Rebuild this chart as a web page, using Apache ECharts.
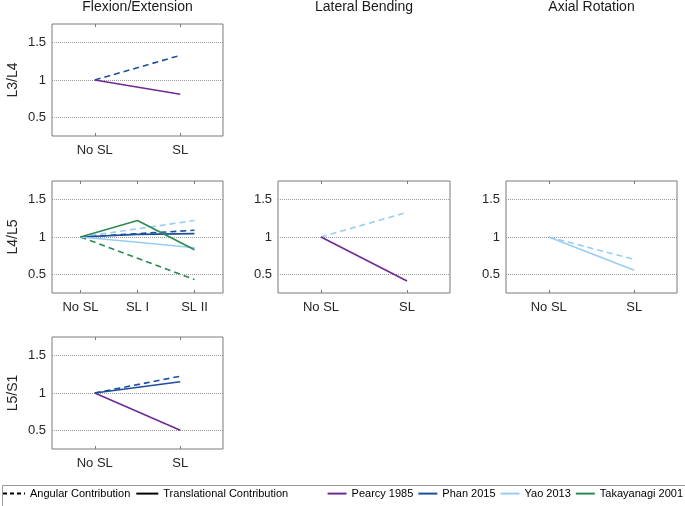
<!DOCTYPE html>
<html>
<head>
<meta charset="utf-8">
<script src="https://cdn.jsdelivr.net/npm/echarts@6/dist/echarts.min.js"></script>
<style>html,body{margin:0;padding:0;background:#fff}#c{width:685px;height:506px}</style>
</head>
<body>
<div id="c"></div>
<script>
// ---- data ----
const catsTwo = ['No SL', 'SL'];
const catsThree = ['No SL', 'SL I', 'SL II'];
const panelTitles = ['Flexion/Extension', 'Lateral Bending', 'Axial Rotation'];
const levelNames = ['L3/L4', 'L4/L5', 'L5/S1'];
const studies = ['Pearcy 1985', 'Phan 2015', 'Yao 2013', 'Takayanagi 2001'];
const contributionNames = ['Angular Contribution', 'Translational Contribution'];

// L3/L4 flexion/extension
const l34FlexPearcyTrans = [1, 0.81];
const l34FlexPhanAng = [1, 1.33];
// L4/L5 flexion/extension
const l45FlexPhanAng = [1, 1.045, 1.09];
const l45FlexPhanTrans = [1, 1.035, 1.045];
const l45FlexYaoAng = [1, 1.11, 1.22];
const l45FlexYaoTrans = [1, 0.93, 0.855];
const l45FlexTakAng = [1, 0.715, 0.43];
const l45FlexTakTrans = [1, 1.22, 0.83];
// L4/L5 lateral bending
const l45LatYaoAng = [1, 1.33];
const l45LatPearcyTrans = [1, 0.41];
// L4/L5 axial rotation
const l45AxYaoAng = [1, 0.70];
const l45AxYaoTrans = [1, 0.555];
// L5/S1 flexion/extension
const l5s1FlexPhanAng = [1, 1.225];
const l5s1FlexPhanTrans = [1, 1.15];
const l5s1FlexPearcyTrans = [1, 0.5];

// ---- styling ----
const FONT = "'Liberation Sans', Arial, sans-serif";
const studyColors = {
  'Pearcy 1985': '#6f2a96',
  'Phan 2015': '#1d4f9a',
  'Yao 2013': '#98cdf5',
  'Takayanagi 2001': '#2a8a52'
};
const BORDER = '#7a7a7a';

const grids = [
  {left: 52, top: 24, width: 171, height: 112},   // 0 L3/L4 flex
  {left: 52, top: 181, width: 171, height: 112},  // 1 L4/L5 flex
  {left: 278, top: 181, width: 172, height: 112}, // 2 L4/L5 lateral
  {left: 506, top: 181, width: 171, height: 112}, // 3 L4/L5 axial
  {left: 52, top: 337, width: 171, height: 112}   // 4 L5/S1 flex
].map(g => Object.assign({show: true, borderColor: BORDER, borderWidth: 1, backgroundColor: '#fff'}, g));

const gridCats = [catsTwo, catsThree, catsTwo, catsTwo, catsTwo];
const gridYName = [levelNames[0], levelNames[1], '', '', levelNames[2]];

const xAxes = [];
const yAxes = [];
gridCats.forEach((cats, i) => {
  xAxes.push({
    type: 'category', gridIndex: i, data: cats, boundaryGap: true, position: 'bottom',
    axisLine: {show: false},
    axisTick: {show: true, inside: true, alignWithLabel: true, length: 3, lineStyle: {color: BORDER}},
    axisLabel: {fontFamily: FONT, fontSize: 13, color: '#262626', margin: 8},
    splitLine: {show: false}
  });
  xAxes.push({
    type: 'category', gridIndex: i, data: cats, boundaryGap: true, position: 'top',
    axisLine: {show: false},
    axisTick: {show: true, inside: true, alignWithLabel: true, length: 3, lineStyle: {color: BORDER}},
    axisLabel: {show: false},
    splitLine: {show: false}
  });
  yAxes.push({
    type: 'value', gridIndex: i, min: 0.25, max: 1.75, interval: 0.25,
    name: gridYName[i], nameLocation: 'middle', nameGap: 32, nameRotate: 90,
    nameTextStyle: {fontFamily: FONT, fontSize: 14, color: '#262626'},
    axisLine: {show: false},
    axisTick: {show: false},
    axisLabel: {
      fontFamily: FONT, fontSize: 13, color: '#262626', margin: 6,
      formatter: v => (Math.abs(v * 2 - Math.round(v * 2)) < 1e-9) ? String(v) : ''
    },
    splitLine: {show: true, lineStyle: {type: 'dotted', width: 1, color: ['rgba(0,0,0,0)', '#9a9a9a']}}
  });
});

function line(name, data, grid, dashed) {
  return {
    type: 'line', name: name, data: data,
    xAxisIndex: grid * 2, yAxisIndex: grid,
    symbol: 'none', silent: true, animation: false,
    color: studyColors[name],
    lineStyle: {color: studyColors[name], width: 1.6, type: dashed ? [6, 4] : 'solid'},
    z: dashed ? 2 : 3
  };
}

const series = [
  // legend-only entries for line styles
  {type: 'line', name: contributionNames[0], data: [], xAxisIndex: 0, yAxisIndex: 0, symbol: 'none', color: '#000', lineStyle: {color: '#000', width: 1.4, type: [4, 3]}},
  {type: 'line', name: contributionNames[1], data: [], xAxisIndex: 0, yAxisIndex: 0, symbol: 'none', color: '#000', lineStyle: {color: '#000', width: 2, type: 'solid'}},
  // L3/L4 flexion
  line(studies[0], l34FlexPearcyTrans, 0, false),
  line(studies[1], l34FlexPhanAng, 0, true),
  // L4/L5 flexion
  line(studies[1], l45FlexPhanAng, 1, true),
  line(studies[1], l45FlexPhanTrans, 1, false),
  line(studies[2], l45FlexYaoAng, 1, true),
  line(studies[2], l45FlexYaoTrans, 1, false),
  line(studies[3], l45FlexTakAng, 1, true),
  line(studies[3], l45FlexTakTrans, 1, false),
  // L4/L5 lateral
  line(studies[0], l45LatPearcyTrans, 2, false),
  line(studies[2], l45LatYaoAng, 2, true),
  // L4/L5 axial
  line(studies[2], l45AxYaoAng, 3, true),
  line(studies[2], l45AxYaoTrans, 3, false),
  // L5/S1 flexion
  line(studies[0], l5s1FlexPearcyTrans, 4, false),
  line(studies[1], l5s1FlexPhanAng, 4, true),
  line(studies[1], l5s1FlexPhanTrans, 4, false)
];

const titleCenters = [137.5, 364, 591.5];
const option = {
  animation: false,
  backgroundColor: '#fff',
  title: panelTitles.map((t, i) => ({
    text: t, left: titleCenters[i], top: 0, padding: 0, textAlign: 'center',
    textStyle: {fontFamily: FONT, fontSize: 14, fontWeight: 'normal', color: '#1a1a1a'}
  })),
  grid: grids,
  xAxis: xAxes,
  yAxis: yAxes,
  legend: [
    {
      data: contributionNames, left: 2, top: 488, padding: 0,
      itemWidth: 22, itemHeight: 14, itemGap: 5,
      itemStyle: {opacity: 0, borderWidth: 0},
      textStyle: {fontFamily: FONT, fontSize: 11, color: '#000'},
      selectedMode: false
    },
    {
      data: studies, right: 2, top: 488, padding: 0,
      itemWidth: 19, itemHeight: 14, itemGap: 4,
      itemStyle: {opacity: 0, borderWidth: 0},
      lineStyle: {type: 'solid', width: 2},
      textStyle: {fontFamily: FONT, fontSize: 11, color: '#000'}
    }
  ],
  graphic: [
    {type: 'rect', left: 0, top: 483, shape: {x: 0.5, y: 0.5, width: 683, height: 21}, style: {fill: 'none', stroke: '#9a9a9a', lineWidth: 1}, z: -1, silent: true}
  ],
  series: series
};

const chart = echarts.init(document.getElementById('c'), null, {renderer: 'canvas'});
chart.setOption(option);
</script>
</body>
</html>
